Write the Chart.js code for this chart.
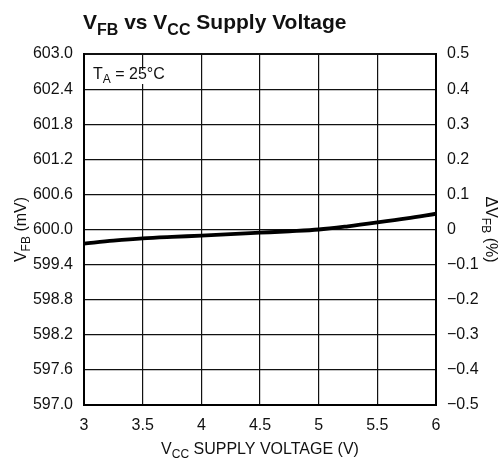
<!DOCTYPE html>
<html>
<head>
<meta charset="utf-8">
<script src="https://cdn.jsdelivr.net/npm/chart.js@4"></script>
<style>
  html, body { margin: 0; padding: 0; background: #fff; }
  #wrap { width: 502px; height: 459px; position: relative; }
</style>
</head>
<body>
<div id="wrap"><canvas id="vfbChart"></canvas></div>
<script>
// VFB vs VCC supply voltage, TA = 25°C
const vccVolts = [3, 3.25, 3.5, 3.75, 4, 4.25, 4.5, 4.75, 5, 5.25, 5.5, 5.75, 6];
const vfbMillivolts = [599.76, 599.81, 599.85, 599.875, 599.895, 599.92, 599.945, 599.97, 600.0, 600.055, 600.12, 600.19, 600.27];

const xTicks = [3, 3.5, 4, 4.5, 5, 5.5, 6];
const leftTicks = [597.0, 597.6, 598.2, 598.8, 599.4, 600.0, 600.6, 601.2, 601.8, 602.4, 603.0];
const rightTicks = [-0.5, -0.4, -0.3, -0.2, -0.1, 0, 0.1, 0.2, 0.3, 0.4, 0.5];

const FONT = '"Liberation Sans", Arial, sans-serif';

// draw text with subscript pieces: parts = [[text, isSub], ...]
function drawRich(ctx, parts, x, y, size, weight, align) {
  const subSize = Math.round(size * 0.78);
  let total = 0;
  const widths = parts.map(([t, sub]) => {
    ctx.font = weight + " " + (sub ? subSize : size) + "px " + FONT;
    const w = ctx.measureText(t).width;
    total += w;
    return w;
  });
  let cx = align === "center" ? x - total / 2 : x;
  ctx.textAlign = "left";
  ctx.textBaseline = "alphabetic";
  parts.forEach(([t, sub], i) => {
    ctx.font = weight + " " + (sub ? subSize : size) + "px " + FONT;
    ctx.fillText(t, cx, sub ? y + size * 0.28 : y);
    cx += widths[i];
  });
  return total;
}

const labelsPlugin = {
  id: "labels",
  afterDatasetsDraw(chart) {
    const ctx = chart.ctx;
    const area = chart.chartArea;
    ctx.save();
    // TA = 25°C with white backing
    const parts = [["T", false], ["A", true], [" = 25°C", false]];
    ctx.save();
    ctx.globalAlpha = 0;
    const w = drawRich(ctx, parts, 0, 0, 16, "normal", "left");
    ctx.restore();
    ctx.fillStyle = "#fff";
    ctx.fillRect(area.left + 6, area.top + 16, w + 8, 14);
    ctx.fillStyle = "#111";
    drawRich(ctx, parts, area.left + 9, area.top + 25, 16, "normal", "left");
    ctx.restore();
  },
  afterDraw(chart) {
    const ctx = chart.ctx;
    const area = chart.chartArea;
    ctx.save();
    ctx.fillStyle = "#111";
    // main title
    drawRich(ctx, [["V", false], ["FB", true], [" vs V", false], ["CC", true], [" Supply Voltage", false]],
      area.left - 1, 29, 21, "bold", "left");
    // x axis title
    drawRich(ctx, [["V", false], ["CC", true], [" SUPPLY VOLTAGE (V)", false]],
      (area.left + area.right) / 2, 454, 16, "normal", "center");
    // left axis title
    ctx.save();
    ctx.translate(26, (area.top + area.bottom) / 2);
    ctx.rotate(-Math.PI / 2);
    drawRich(ctx, [["V", false], ["FB", true], [" (mV)", false]], 0, 0, 16, "normal", "center");
    ctx.restore();
    // right axis title
    ctx.save();
    ctx.translate(486, (area.top + area.bottom) / 2);
    ctx.rotate(Math.PI / 2);
    drawRich(ctx, [["ΔV", false], ["FB", true], [" (%)", false]], 0, 0, 16, "normal", "center");
    ctx.restore();
    ctx.restore();
  }
};

const ctx = document.getElementById("vfbChart").getContext("2d");

new Chart(ctx, {
  type: "line",
  data: {
    datasets: [{
      data: vccVolts.map((v, i) => ({ x: v, y: vfbMillivolts[i] })),
      borderColor: "#000",
      borderWidth: 3.8,
      pointRadius: 0,
      cubicInterpolationMode: "monotone",
      yAxisID: "y"
    }]
  },
  options: {
    responsive: true,
    maintainAspectRatio: false,
    animation: false,
    layout: { padding: { top: 54, right: 0, bottom: 0, left: 0 } },
    plugins: {
      legend: { display: false },
      tooltip: { enabled: false },
      title: { display: false }
    },
    scales: {
      x: {
        type: "linear",
        min: 3,
        max: 6,
        afterBuildTicks: s => { s.ticks = xTicks.map(v => ({ value: v })); },
        afterFit: s => { s.height = 54; },
        ticks: {
          color: "#111",
          font: { family: FONT, size: 16 },
          padding: 11,
          maxRotation: 0,
          callback: v => String(v)
        },
        grid: { color: "#111", lineWidth: 1.2, drawTicks: false },
        border: { color: "#000", width: 2 }
      },
      y: {
        position: "left",
        min: 597,
        max: 603,
        afterBuildTicks: s => { s.ticks = leftTicks.map(v => ({ value: v })); },
        afterFit: s => { s.width = 84; },
        ticks: {
          color: "#111",
          font: { family: FONT, size: 16 },
          padding: 11,
          callback: v => Number(v).toFixed(1)
        },
        grid: {
          color: "#111",
          lineWidth: c => (c.index === leftTicks.length - 1 ? 2 : 1.2),
          drawTicks: false
        },
        border: { color: "#000", width: 2 }
      },
      y2: {
        position: "right",
        min: -0.5,
        max: 0.5,
        afterBuildTicks: s => { s.ticks = rightTicks.map(v => ({ value: v })); },
        afterFit: s => { s.width = 66; },
        ticks: {
          color: "#111",
          font: { family: FONT, size: 16 },
          padding: 11,
          callback: v => {
            const n = Math.round(v * 10) / 10;
            if (n === 0) return "0";
            return n < 0 ? "\u2212" + Math.abs(n).toFixed(1) : n.toFixed(1);
          }
        },
        grid: { display: false, drawTicks: false },
        border: { color: "#000", width: 2 }
      }
    }
  },
  plugins: [labelsPlugin]
});
</script>
</body>
</html>
